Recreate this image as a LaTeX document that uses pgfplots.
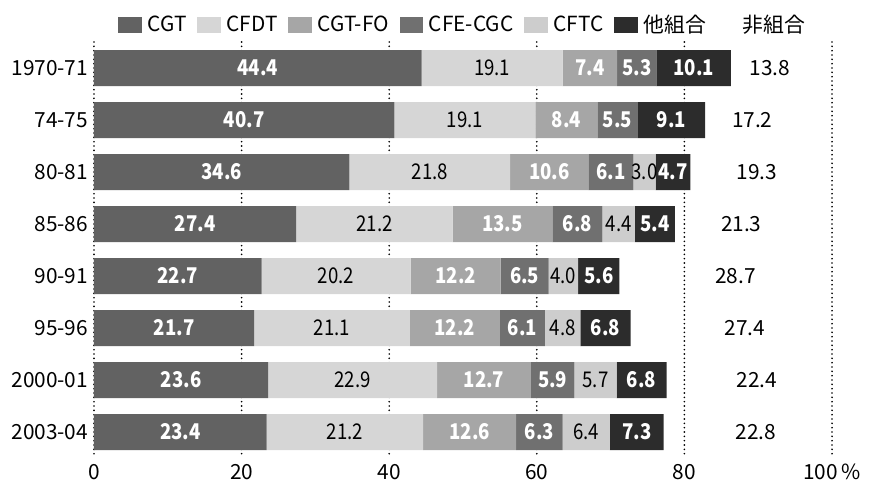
\documentclass[border=0pt]{standalone}
\usepackage{fontspec}
\setmainfont{Noto Sans CJK JP}
\newfontfamily\barfont{Noto Sans CJK JP}[FakeStretch=0.86]
\usepackage{pgfplots}
\usepackage{pgfplotstable}
\pgfplotsset{compat=1.18}
\definecolor{cgt}{HTML}{626262}
\definecolor{cfdt}{HTML}{D6D6D6}
\definecolor{fo}{HTML}{A6A6A6}
\definecolor{cgc}{HTML}{707070}
\definecolor{cftc}{HTML}{CDCDCD}
\definecolor{oth}{HTML}{2C2C2C}
\pgfplotstableread{
idx cgt cfdt fo cgc cftc oth non nx cftcl
0 44.4 19.1 7.4 5.3 0 10.1 13.8 91.6 {}
1 40.7 19.1 8.4 5.5 0 9.1 17.2 89.2 {}
2 34.6 21.8 10.6 6.1 3.0 4.7 19.3 89.8 3.0
3 27.4 21.2 13.5 6.8 4.4 5.4 21.3 87.7 4.4
4 22.7 20.2 12.2 6.5 4.0 5.6 28.7 86.9 4.0
5 21.7 21.1 12.2 6.1 4.8 6.8 27.4 88.2 4.8
6 23.6 22.9 12.7 5.9 5.7 6.8 22.4 89.8 5.7
7 23.4 21.2 12.6 6.3 6.4 7.3 22.8 89.7 6.4
}\data
\newcommand{\fs}{\fontsize{12.5}{14}\selectfont}
\newcommand{\bfs}{\barfont\fontsize{13}{14}\selectfont}
\begin{document}
\begin{tikzpicture}
\useasboundingbox (-56.4pt,-16.2pt) rectangle (465pt,274.8pt);
\begin{axis}[
  scale only axis, width=442.8pt, height=249.6pt,
  xbar stacked, bar width=21.6pt,
  xmin=0, xmax=100, ymin=-0.5, ymax=7.5, y dir=reverse,
  ytick={0,...,7},
  yticklabels={1970-71,74-75,80-81,85-86,90-91,95-96,2000-01,2003-04},
  xtick={0,20,40,60,80,100},
  xticklabels={0,20,40,60,80,100\,\%},
  /pgf/number format/assume math mode=true,
  ticklabel style={font=\fs},
  major tick length=0pt,
  axis line style={draw=none},
  xmajorgrids=true,
  grid style={black, line width=1.1pt, line cap=round, dash pattern=on 0pt off 2.6pt},
  point meta=explicit symbolic,
  nodes near coords,
  every node near coord/.append style={font=\bfs},
  legend columns=7,
  legend style={draw=none, fill=none, at={(0.5,1.041)}, anchor=center,
    font=\fs, /tikz/every even column/.append style={column sep=5pt},
    /tikz/every odd column/.append style={column sep=2pt},
    inner sep=0pt, nodes={inner sep=1.5pt}},
  legend image code/.code={\fill[#1] (0pt,-4.8pt) rectangle (14pt,4.8pt);},
]
\addplot[fill=cgt, draw=none, every node near coord/.append style={white, font=\bfs\bfseries}] table[x=cgt, y=idx, meta=cgt]{\data};
\addlegendentry{CGT}
\addplot[fill=cfdt, draw=none, every node near coord/.append style={black}] table[x=cfdt, y=idx, meta=cfdt]{\data};
\addlegendentry{CFDT}
\addplot[fill=fo, draw=none, every node near coord/.append style={white, font=\bfs\bfseries}] table[x=fo, y=idx, meta=fo]{\data};
\addlegendentry{CGT-FO}
\addplot[fill=cgc, draw=none, every node near coord/.append style={white, font=\bfs\bfseries}] table[x=cgc, y=idx, meta=cgc]{\data};
\addlegendentry{CFE-CGC}
\addplot[fill=cftc, draw=none, every node near coord/.append style={black}] table[x=cftc, y=idx, meta=cftcl]{\data};
\addlegendentry{CFTC}
\addplot[fill=oth, draw=none, every node near coord/.append style={white, font=\bfs\bfseries}] table[x=oth, y=idx, meta=oth]{\data};
\addlegendentry{他組合}
\addlegendimage{empty legend}
\addlegendentry{\hspace{12pt}非組合}
\end{axis}
\begin{axis}[
  scale only axis, width=442.8pt, height=249.6pt,
  xmin=0, xmax=100, ymin=-0.5, ymax=7.5, y dir=reverse,
  hide axis,
  point meta=explicit symbolic,
]
\addplot[only marks, mark=none, nodes near coords,
  every node near coord/.style={anchor=center, font=\fs, black}]
  table[x=nx, y=idx, meta=non]{\data};
\end{axis}
\end{tikzpicture}
\end{document}
